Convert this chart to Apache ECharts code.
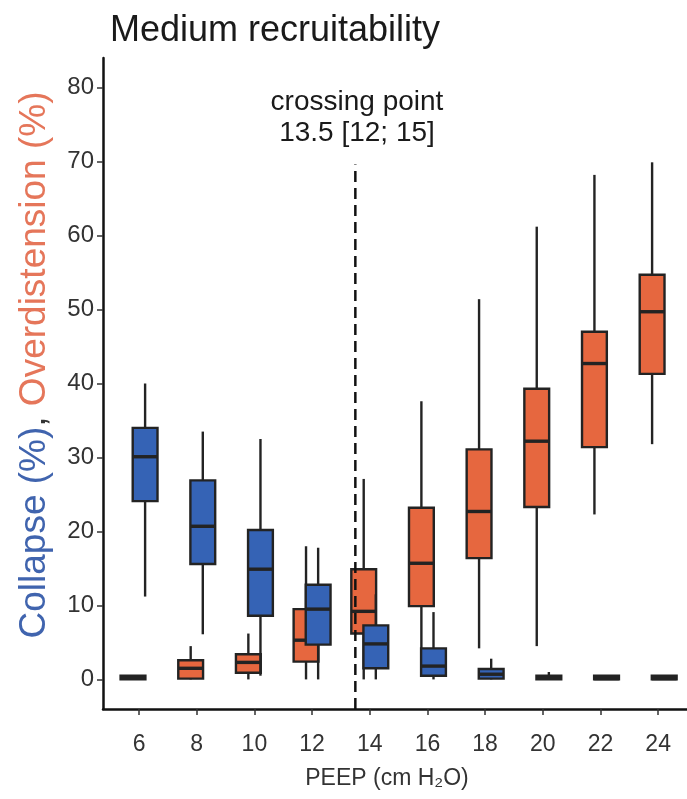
<!DOCTYPE html>
<html>
<head>
<meta charset="utf-8">
<script src="https://cdn.jsdelivr.net/npm/echarts@6/dist/echarts.min.js"></script>
<style>
html,body{margin:0;padding:0;background:#fff;}
#chart{width:687px;height:799px;}
</style>
</head>
<body>
<div id="chart"></div>
<script>
// PEEP levels (cm H2O)
const peep = [6, 8, 10, 12, 14, 16, 18, 20, 22, 24];
// Collapse (%) box stats: [min, q1, median, q3, max]
const collapseMin = [11.2, 6.1, 0.5, 0, 0, 0, 0, 0, 0, 0];
const collapseQ1  = [24.1, 15.6, 8.6, 4.7, 1.5, 0.5, 0.1, 0, 0, 0];
const collapseMed = [30.1, 20.7, 14.9, 9.5, 4.8, 1.8, 0.7, 0.2, 0.1, 0.1];
const collapseQ3  = [34.0, 26.9, 20.2, 12.8, 7.3, 4.2, 1.4, 0.5, 0.5, 0.5];
const collapseMax = [40.0, 33.5, 32.5, 17.8, 11.5, 9.1, 2.8, 1.0, 0.5, 0.5];
// Overdistension (%) box stats
const overMin = [0, 0, 0, 0, 0, 2, 4.2, 4.5, 22.3, 31.8];
const overQ1  = [0, 0.1, 0.9, 2.4, 6.2, 9.9, 16.4, 23.3, 31.4, 41.3];
const overMed = [0.2, 1.5, 2.3, 5.3, 9.2, 15.7, 22.7, 32.2, 42.7, 49.7];
const overQ3  = [0.5, 2.6, 3.4, 9.5, 14.9, 23.2, 31.1, 39.3, 47.0, 54.7];
const overMax = [0.6, 4.5, 6.2, 18.0, 27.1, 37.6, 51.4, 61.2, 68.2, 69.9];
// Axis ticks
const yTicks = [0, 10, 20, 30, 40, 50, 60, 70, 80];
const xTicks = [6, 8, 10, 12, 14, 16, 18, 20, 22, 24];
// Crossing point
const crossing = 13.5;
const crossingTop = 69.6;

const BLUE = '#3563b5';
const ORANGE = '#e6673f';
const EDGE = '#232323';

function rows(mn, q1, md, q3, mx) {
  return peep.map((p, i) => [p, mn[i], q1[i], md[i], q3[i], mx[i]]);
}

function boxRenderer(offsetUnits, color) {
  return function (params, api) {
    const x = api.value(0);
    const off = api.size([Math.abs(offsetUnits), 0])[0];
    const w = api.size([0.86, 0])[0];
    const cx = api.coord([x, 0])[0] + (offsetUnits < 0 ? -off : off);
    const yMin = api.coord([x, api.value(1)])[1];
    const yQ1 = api.coord([x, api.value(2)])[1];
    const yMed = api.coord([x, api.value(3)])[1];
    const yQ3 = api.coord([x, api.value(4)])[1];
    const yMax = api.coord([x, api.value(5)])[1];
    const stroke = {stroke: EDGE, lineWidth: 2.4};
    return {
      type: 'group',
      children: [
        {type: 'line', shape: {x1: cx, y1: yMax, x2: cx, y2: yQ3}, style: stroke},
        {type: 'line', shape: {x1: cx, y1: yQ1, x2: cx, y2: yMin}, style: stroke},
        {type: 'rect', shape: {x: cx - w / 2, y: yQ3, width: w, height: Math.max(yQ1 - yQ3, 0.5)},
          style: {fill: color, stroke: EDGE, lineWidth: 2.4}},
        {type: 'line', shape: {x1: cx - w / 2, y1: yMed, x2: cx + w / 2, y2: yMed},
          style: {stroke: EDGE, lineWidth: 3.4}}
      ]
    };
  };
}

const chart = echarts.init(document.getElementById('chart'), null, {renderer: 'canvas'});
const FONT = 'Liberation Sans, Arial, sans-serif';

chart.setOption({
  animation: false,
  backgroundColor: '#ffffff',
  title: {
    text: 'Medium recruitability',
    left: 105, top: 8,
    textStyle: {fontFamily: FONT, fontSize: 36, fontWeight: 'normal', color: '#1a1a1a'}
  },
  grid: {left: 103, right: 0, top: 58, bottom: 90, containLabel: false},
  xAxis: {
    type: 'value', min: 4.75, max: 25,
    name: 'PEEP (cm H₂O)', nameLocation: 'middle', nameGap: 58,
    nameTextStyle: {fontFamily: FONT, fontSize: 23, color: '#333', padding: [0, 16, 0, 0]},
    axisLine: {show: true, onZero: false, lineStyle: {color: '#111', width: 2.5}},
    axisTick: {show: true, customValues: xTicks, length: 6, lineStyle: {color: '#333', width: 1.5}},
    axisLabel: {customValues: xTicks, fontFamily: FONT, fontSize: 23, color: '#333', margin: 24},
    splitLine: {show: false}
  },
  yAxis: {
    type: 'value', min: -4, max: 84,
    axisLine: {show: true, onZero: false, lineStyle: {color: '#111', width: 2.5}},
    axisTick: {show: true, customValues: yTicks, length: 6, lineStyle: {color: '#333', width: 1.5}},
    axisLabel: {customValues: yTicks, fontFamily: FONT, fontSize: 24, color: '#333', margin: 9},
    splitLine: {show: false}
  },
  graphic: [
    {
      type: 'text', x: 35, y: 365, rotation: Math.PI / 2,
      style: {
        text: '{b|Collapse (%)}{k|, }{o|Overdistension (%)}',
        align: 'center', verticalAlign: 'middle',
        rich: {
          b: {fontFamily: FONT, fontSize: 37, fill: '#4064ae', color: '#4064ae'},
          k: {fontFamily: FONT, fontSize: 37, fill: '#333', color: '#333'},
          o: {fontFamily: FONT, fontSize: 37, fill: '#e5765a', color: '#e5765a'}
        }
      }
    },
    {
      type: 'text', x: 357, y: 118,
      style: {
        text: 'crossing point\n13.5 [12; 15]',
        align: 'center', verticalAlign: 'middle',
        fontFamily: FONT, fontSize: 28, lineHeight: 31, fill: '#1a1a1a'
      }
    }
  ],
  series: [
    {
      type: 'line', data: [[crossing, -4], [crossing, crossingTop]],
      symbol: 'none', silent: true,
      lineStyle: {color: '#111', width: 2.5, type: [11, 6]}
    },
    {
      type: 'custom', name: 'Overdistension',
      renderItem: boxRenderer(-0.21, ORANGE),
      encode: {x: 0, y: [1, 2, 3, 4, 5]},
      data: rows(overMin, overQ1, overMed, overQ3, overMax)
    },
    {
      type: 'custom', name: 'Collapse',
      renderItem: boxRenderer(0.21, BLUE),
      encode: {x: 0, y: [1, 2, 3, 4, 5]},
      data: rows(collapseMin, collapseQ1, collapseMed, collapseQ3, collapseMax)
    }
  ]
});
</script>
</body>
</html>
